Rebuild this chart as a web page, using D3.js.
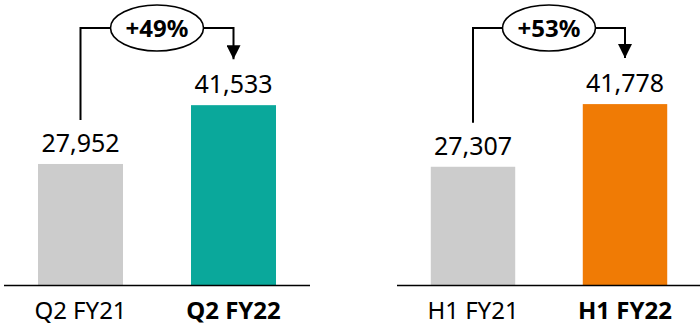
<!DOCTYPE html>
<html>
<head>
<meta charset="utf-8">
<script src="https://cdn.jsdelivr.net/npm/d3@7"></script>
<style>
  html, body { margin: 0; padding: 0; background: #fff; }
  svg { display: block; font-family: "Noto Sans", "Open Sans", sans-serif; }
</style>
</head>
<body>
<svg id="chart" width="700" height="326"></svg>
<script>
// Revenue comparison: quarter and half-year, prior vs current fiscal year
const quarterCategories = ["Q2 FY21", "Q2 FY22"];
const quarterValues = [27952, 41533];
const halfCategories = ["H1 FY21", "H1 FY22"];
const halfValues = [27307, 41778];
const growthLabels = ["+49%", "+53%"];
const barColors = [["#cccccc", "#0aa89b"], ["#cccccc", "#f07b05"]];

const panels = [
  { cats: quarterCategories, vals: quarterValues, growth: growthLabels[0], colors: barColors[0], range: [4, 310], axis: [4, 310] },
  { cats: halfCategories, vals: halfValues, growth: growthLabels[1], colors: barColors[1], range: [397, 701], axis: [397, 700] }
];

const svg = d3.select("#chart");
const baseY = 285;
const y = d3.scaleLinear().domain([0, 50000]).range([baseY, 68.5]);
const fmt = d3.format(",");

svg.append("defs").append("marker")
  .attr("id", "arrow")
  .attr("viewBox", "0 0 14 14")
  .attr("refX", 7).attr("refY", 14)
  .attr("markerWidth", 14).attr("markerHeight", 14)
  .attr("markerUnits", "userSpaceOnUse")
  .attr("orient", "0")
  .append("path").attr("d", "M0,0 L14,0 L7,14 Z").attr("fill", "#000");

panels.forEach(p => {
  const x = d3.scaleBand().domain(p.cats).range(p.range).paddingInner(68 / 153).paddingOuter(34 / 153);
  const g = svg.append("g");
  const data = p.cats.map((c, i) => ({ c, v: p.vals[i], color: p.colors[i], bold: i === 1 }));

  g.selectAll("rect").data(data).join("rect")
    .attr("x", d => x(d.c))
    .attr("width", x.bandwidth())
    .attr("y", d => y(d.v))
    .attr("height", d => baseY - y(d.v))
    .attr("fill", d => d.color);

  // baseline
  g.append("line")
    .attr("x1", p.axis[0]).attr("x2", p.axis[1])
    .attr("y1", baseY + 0.5).attr("y2", baseY + 0.5)
    .attr("stroke", "#000").attr("stroke-width", 1.6);

  // value labels
  g.selectAll("text.val").data(data).join("text")
    .attr("class", "val")
    .attr("x", d => x(d.c) + x.bandwidth() / 2)
    .attr("y", d => y(d.v) - 12)
    .attr("text-anchor", "middle")
    .attr("font-size", 25)
    .attr("fill", "#000")
    .text(d => fmt(d.v));

  // category labels
  g.selectAll("text.cat").data(data).join("text")
    .attr("class", "cat")
    .attr("x", d => x(d.c) + x.bandwidth() / 2)
    .attr("y", 319)
    .attr("text-anchor", "middle")
    .attr("font-size", 24)
    .attr("font-weight", d => d.bold ? "bold" : "normal")
    .attr("fill", "#000")
    .text(d => d.c);

  // growth connector
  const x0 = x(p.cats[0]) + x.bandwidth() / 2;
  const x1 = x(p.cats[1]) + x.bandwidth() / 2;
  const topY = 28;
  const startY = y(p.vals[0]) - 44;
  const endY = y(p.vals[1]) - 46;
  const cx = (x0 + x1) / 2, rx = 46.5, ry = 23;

  g.append("path")
    .attr("d", `M${x0},${startY} V${topY} H${cx - rx}`)
    .attr("fill", "none").attr("stroke", "#000").attr("stroke-width", 2);
  g.append("path")
    .attr("d", `M${cx + rx},${topY} H${x1} V${endY}`)
    .attr("fill", "none").attr("stroke", "#000").attr("stroke-width", 2)
    .attr("marker-end", "url(#arrow)");
  g.append("ellipse")
    .attr("cx", cx).attr("cy", topY).attr("rx", rx).attr("ry", ry)
    .attr("fill", "#fff").attr("stroke", "#000").attr("stroke-width", 1.6);
  g.append("text")
    .attr("x", cx).attr("y", topY + 8.5)
    .attr("text-anchor", "middle")
    .attr("font-size", 24).attr("font-weight", "bold")
    .attr("fill", "#000")
    .text(p.growth);
});
</script>
</body>
</html>
